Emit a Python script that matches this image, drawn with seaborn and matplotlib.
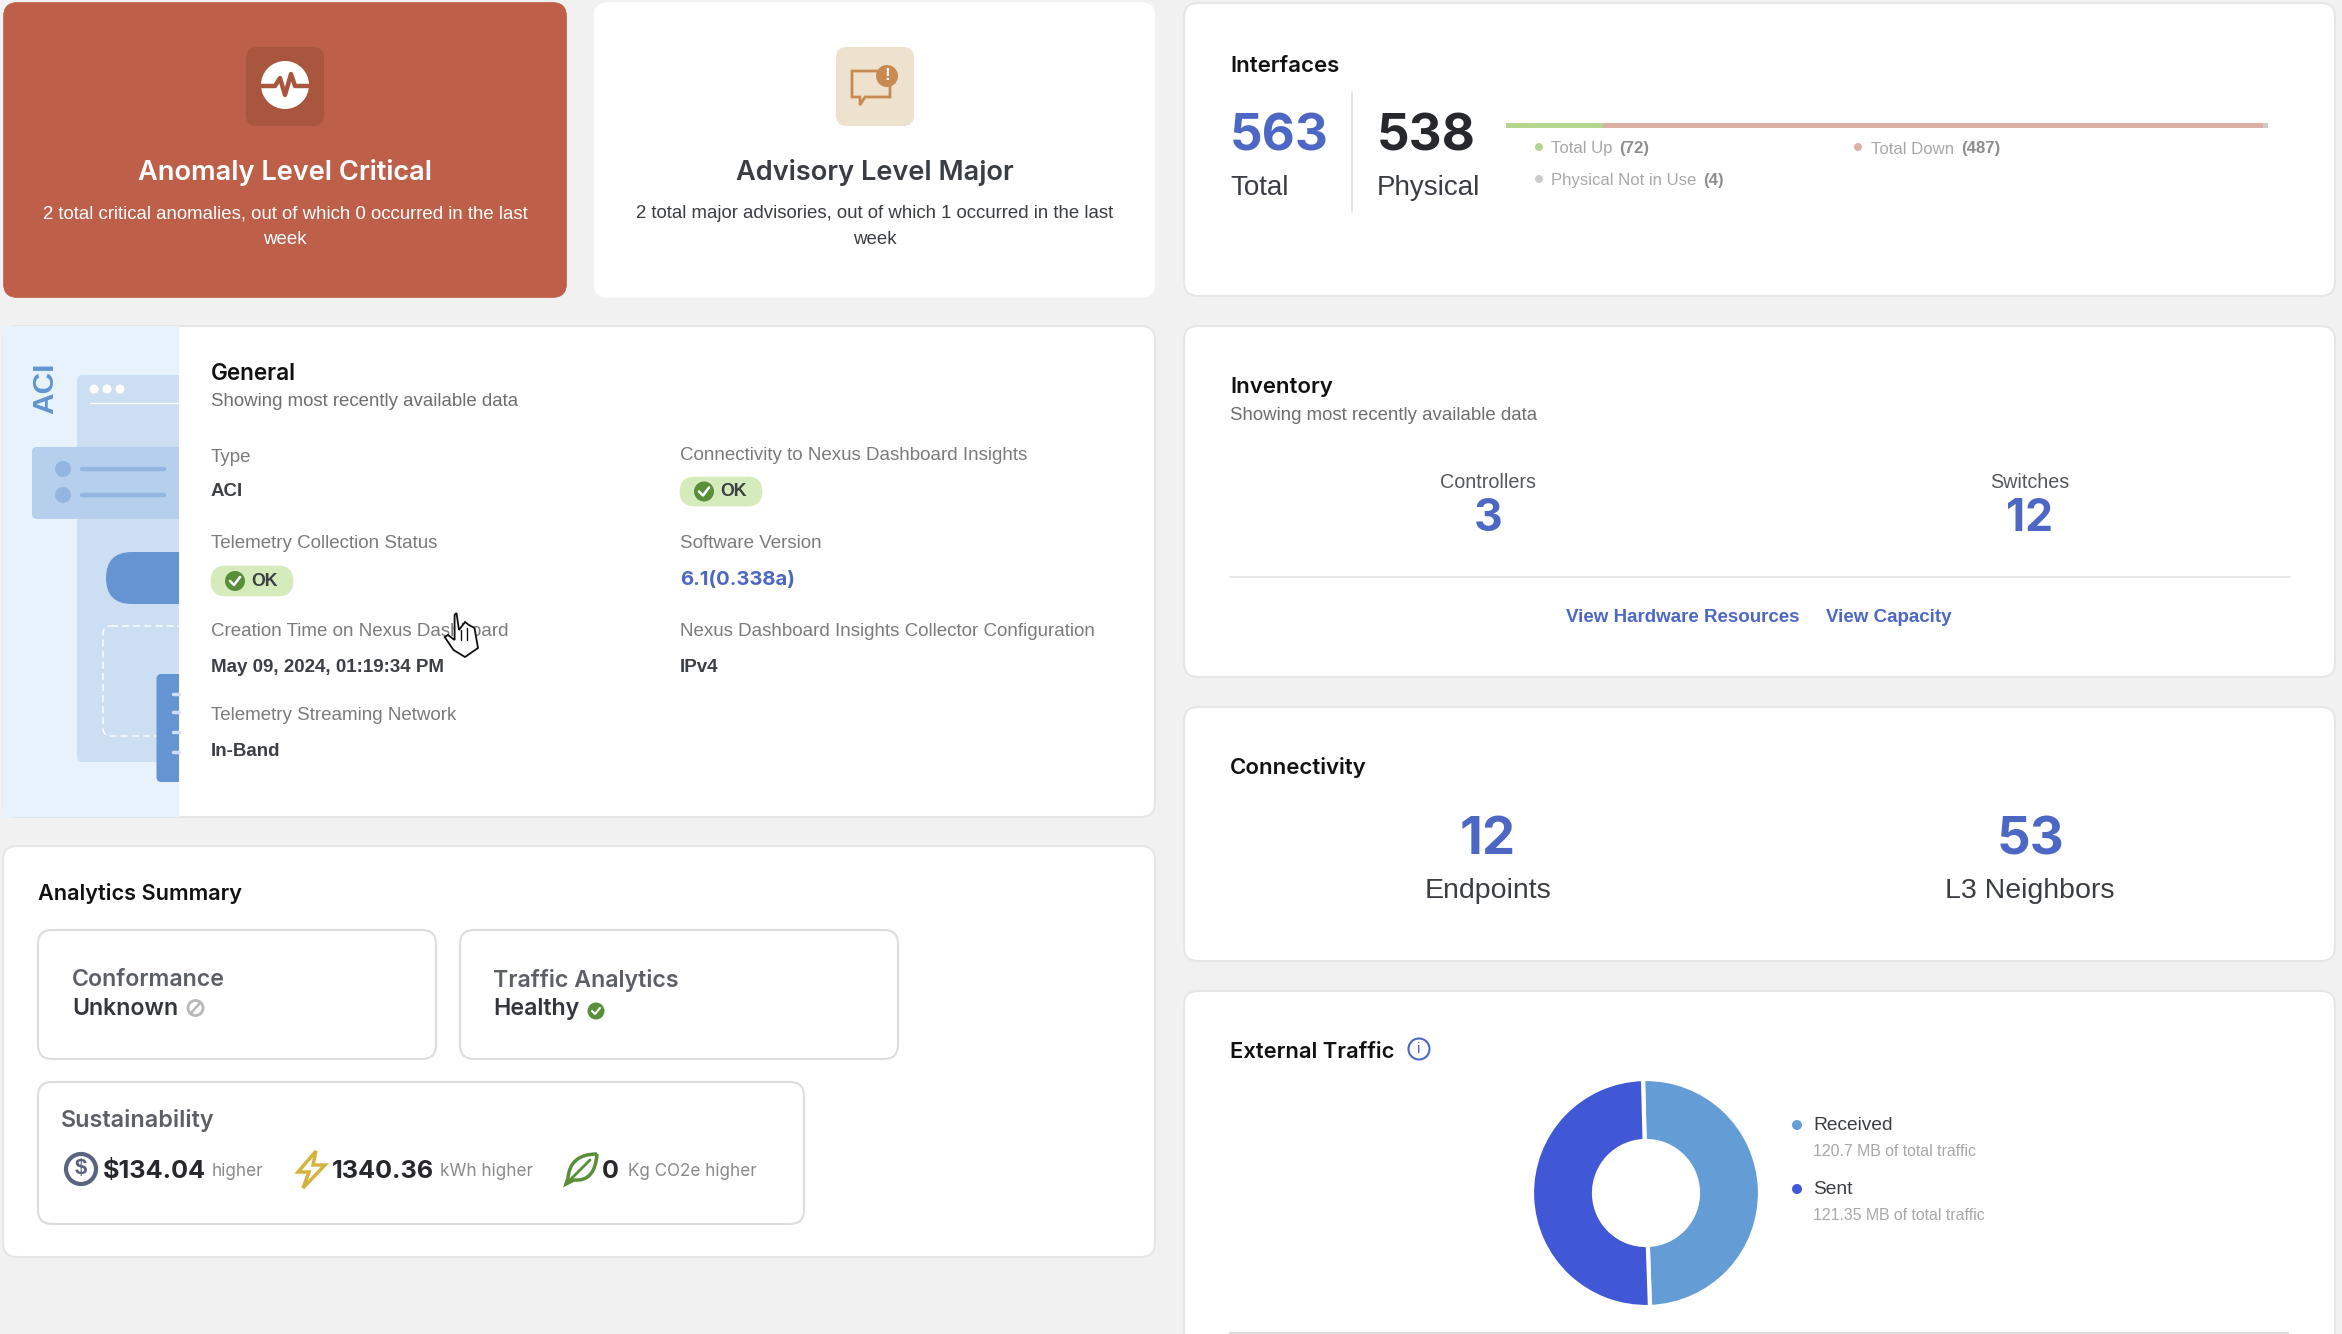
import matplotlib
matplotlib.use("Agg")
import matplotlib.pyplot as plt
import seaborn as sns
from matplotlib.patches import FancyBboxPatch, Rectangle, Circle, Polygon, PathPatch
from matplotlib.path import Path

W, H = 2342, 1334

# ---- data ----
interface_labels = ["Total Up", "Total Down", "Physical Not in Use"]
interface_counts = [72, 487, 4]
interface_colors = ["#B5D68F", "#DDB0A5", "#CCCCCC"]
traffic_labels = ["Received", "Sent"]
traffic_mb = [120.7, 121.35]
traffic_colors = ["#649DD6", "#4158D6"]
total_interfaces = 563
physical_interfaces = 538
controllers = 3
switches = 12
endpoints = 12
l3_neighbors = 53
sustain_values = ["$134.04", "1340.36", "0"]
sustain_units = ["higher", "kWh higher", "Kg CO2e higher"]

sns.set_theme(style="white", rc={"figure.facecolor": "#F1F1F1", "axes.facecolor": "none"})
BODY = ["Liberation Sans", "DejaVu Sans"]
HEAD = ["Inter", "DejaVu Sans"]
plt.rcParams["font.family"] = BODY

fig = plt.figure(figsize=(W / 100, H / 100), dpi=100)
bg = fig.add_axes([0, 0, 1, 1])
bg.set_xlim(0, W)
bg.set_ylim(H, 0)
bg.axis("off")

BLUE = "#4D68C4"
GREEN = "#5A8F3A"
LABEL = "#7B7B7B"
VALUE = "#3C3F44"


def card(x0, y0, x1, y1, fc="white", ec="#E6E6E6", r=14, lw=1.5, z=1):
    p = FancyBboxPatch((x0, y0), x1 - x0, y1 - y0, boxstyle=f"round,pad=0,rounding_size={r}",
                       fc=fc, ec=ec, lw=lw, zorder=z)
    bg.add_patch(p)
    return p


def txt(x, y, s, size, color="#111111", weight="normal", family=None, ha="left", dy=2, **kw):
    return bg.text(x, y + dy, s, fontsize=size, color=color, fontweight=weight, ha=ha, va="center",
                   family=family or BODY, zorder=6, **kw)


# ---- top left alerts ----
card(3.5, 2.5, 566.5, 297.5, fc="#BE6049", ec="#BE6049", lw=0.5)
card(594, 2.5, 1155, 297.5, ec="#FFFFFF", lw=0.5)
card(247, 48, 323, 125, fc="#A9563F", ec="#A9563F", r=10, z=2)
card(837, 48, 913, 125, fc="#EEE2CF", ec="#EEE2CF", r=10, z=2)
bg.add_patch(Circle((285, 85), 24, fc="white", ec="none", zorder=3))
bg.plot([259, 275, 280, 285, 291, 295, 311], [86, 86, 78, 95, 74, 86, 86], color="#A9563F", lw=3.2, zorder=4)
bg.add_patch(Polygon([(852, 71), (890, 71), (890, 97), (865, 97), (860, 105), (860, 97), (852, 97)],
                     closed=True, fc="none", ec="#C98A52", lw=2, zorder=3))
bg.add_patch(Circle((887, 76), 11, fc="#C98A52", ec="none", zorder=4))
txt(887, 76, "!", 12, color="white", weight="bold", ha="center", dy=0)
txt(285, 171, "Anomaly Level Critical", 19.6, color="white", weight="semibold", family=HEAD, ha="center")
txt(285, 212, "2 total critical anomalies, out of which 0 occurred in the last", 13.45, color="white", ha="center")
txt(285, 238, "week", 13.45, color="white", ha="center")
txt(875, 171, "Advisory Level Major", 19.6, color="#3A3D42", weight="semibold", family=HEAD, ha="center")
txt(875, 212, "2 total major advisories, out of which 1 occurred in the last", 13.45, color="#3A3D42", ha="center")
txt(875, 238, "week", 13.45, color="#3A3D42", ha="center")

# ---- general ----
gen = card(3, 326, 1155, 817)
illus = [
    Rectangle((3, 326), 176, 491, fc="#E7F2FC", ec="none", zorder=2),
    FancyBboxPatch((77, 375), 110, 387, boxstyle="round,pad=0,rounding_size=6", fc="#CCDFF2", ec="none", zorder=2.1),
    FancyBboxPatch((32, 447), 160, 72, boxstyle="round,pad=0,rounding_size=5", fc="#B5CFEC", ec="none", zorder=2.2),
    FancyBboxPatch((106, 552), 120, 52, boxstyle="round,pad=0,rounding_size=26", fc="#6495D2", ec="none", zorder=2.2),
    FancyBboxPatch((103, 626), 120, 110, boxstyle="round,pad=0,rounding_size=8", fc="none", ec="white", ls=(0, (5, 3)), lw=1.0, zorder=2.2),
    FancyBboxPatch((156.5, 674), 50, 108, boxstyle="round,pad=0,rounding_size=5", fc="#6495D2", ec="none", zorder=2.3),
]
for p in illus:
    bg.add_patch(p)
    p.set_clip_path(Rectangle((3, 326), 176, 491, transform=bg.transData))
for cx in (94, 107, 120):
    bg.add_patch(Circle((cx, 389), 4.5, fc="white", ec="none", zorder=2.5))
bg.plot([90, 179], [403, 403], color="white", lw=0.9, zorder=2.5)
for cy in (469, 495):
    bg.add_patch(Circle((63, cy), 8, fc="#93B6E0", ec="none", zorder=2.5))
    bg.plot([82, 164], [cy, cy], color="#93B6E0", lw=3.2, zorder=2.5, solid_capstyle="round")
for cy in (694, 712, 732, 752):
    bg.plot([173, 179], [cy, cy], color="#CFE0F3", lw=2.5, zorder=2.5)
txt(45, 388, "ACI", 21.5, color="#6095D0", weight="bold", ha="center", rotation=90, dy=0)

txt(211, 372, "General", 16.2, weight="semibold", family=HEAD)
txt(211, 400, "Showing most recently available data", 13.4, color="#6E6E6E")


def ok_pill(x0, y0, x1, y1):
    card(x0, y0, x1, y1, fc="#D5EBBC", ec="#D5EBBC", r=(y1 - y0) / 2, z=2, lw=0.5)
    cy = (y0 + y1) / 2
    bg.add_patch(Circle((x0 + 24, cy), 10, fc=GREEN, ec="none", zorder=3))
    bg.plot([x0 + 19, x0 + 23, x0 + 29], [cy, cy + 4, cy - 4], color="white", lw=1.8, zorder=4)
    txt(x0 + 40, cy, "OK", 12.8, color=VALUE, weight="bold", dy=0.5)


left_items = [(455, "Type"), (542, "Telemetry Collection Status"), (630, "Creation Time on Nexus Dashboard"),
              (713, "Telemetry Streaming Network")]
for y, s in left_items:
    txt(211, y, s, 13.5, color=LABEL)
txt(211, 490, "ACI", 13.5, color=VALUE, weight="bold")
ok_pill(211, 566, 293, 596)
txt(211, 666, "May 09, 2024, 01:19:34 PM", 13.5, color=VALUE, weight="bold")
txt(211, 749, "In-Band", 13.5, color=VALUE, weight="bold")

right_items = [(454, "Connectivity to Nexus Dashboard Insights"), (542, "Software Version"),
               (630, "Nexus Dashboard Insights Collector Configuration")]
for y, s in right_items:
    txt(680, y, s, 13.5, color=LABEL)
ok_pill(680, 477, 762, 506)
txt(680, 578, "6.1(0.338a)", 14.6, color=BLUE, weight="bold", family=HEAD)
txt(680, 665, "IPv4", 13.5, color=VALUE, weight="bold")

# cursor
bg.add_patch(Polygon([(456.5, 613), (459, 630), (465, 622), (469, 625), (474.5, 628), (478, 648), (465, 657),
                      (453.5, 650), (444.7, 637), (448, 635), (454.6, 640), (454.6, 615)],
                     closed=True, fc="white", ec="#111111", lw=1.3, zorder=8))
bg.plot([461, 461], [630, 640], color="#111111", lw=1, zorder=9)
bg.plot([467, 467], [628, 640], color="#111111", lw=1, zorder=9)

# ---- analytics ----
card(3, 846, 1155, 1257)
txt(38, 892, "Analytics Summary", 15.6, weight="semibold", family=HEAD)
card(38, 930, 436, 1059, ec="#DDDDDD", z=2)
card(460, 930, 898, 1059, ec="#DDDDDD", z=2)
card(38, 1082, 804, 1224, ec="#DDDDDD", z=2)
txt(72, 978, "Conformance", 16.7, color="#5C6066", weight="semibold", family=HEAD)
txt(72, 1007, "Unknown", 16.7, color="#33363B", weight="semibold", family=HEAD)
bg.add_patch(Circle((195.5, 1008), 7.5, fc="none", ec="#B8B8B8", lw=2, zorder=3))
bg.plot([191, 200], [1013, 1003], color="#B8B8B8", lw=1.8, zorder=3)
txt(493, 978, "Traffic Analytics", 16.7, color="#5C6066", weight="semibold", family=HEAD)
txt(493, 1007, "Healthy", 16.7, color="#33363B", weight="semibold", family=HEAD)
bg.add_patch(Circle((596, 1011), 8.5, fc=GREEN, ec="none", zorder=3))
bg.plot([592, 595, 600], [1011, 1014, 1008], color="white", lw=1.5, zorder=4)
txt(61, 1119, "Sustainability", 16.8, color="#5C6066", weight="semibold", family=HEAD)

bg.add_patch(Circle((81, 1169), 15, fc="none", ec="#5A6480", lw=3, zorder=3))
txt(81, 1169, "$", 16, color="#5A6480", weight="bold", ha="center", dy=0)
bg.add_patch(Polygon([(316, 1151), (298, 1172), (309, 1172), (303, 1188), (325, 1165), (313, 1165)],
                     closed=True, fc="white", ec="#D4B43C", lw=2.5, zorder=3))
leaf = Path([(597, 1154), (570, 1154), (568, 1178), (566, 1184), (574, 1180), (595, 1182), (597, 1154)],
            [Path.MOVETO, Path.CURVE3, Path.CURVE3, Path.LINETO, Path.LINETO, Path.CURVE3, Path.CURVE3])
bg.add_patch(PathPatch(leaf, fc="white", ec=GREEN, lw=2.5, zorder=3))
bg.plot([566, 590], [1184, 1160], color=GREEN, lw=2, zorder=4)
for x_val, x_unit, val, unit in zip((103, 332, 602), (212, 440, 628), sustain_values, sustain_units):
    txt(x_val, 1169, val, 18.2, color="#26282C", weight="bold", family=HEAD)
    txt(x_unit, 1170, unit, 12.3, color="#8A8A8A", family=HEAD)

# ---- interfaces ----
card(1184, 3, 2335, 296)
txt(1230, 64, "Interfaces", 16, weight="semibold", family=HEAD)
txt(1230, 135, str(total_interfaces), 36.8, color=BLUE, weight="bold", family=HEAD)
txt(1377, 135, str(physical_interfaces), 36.8, color="#26282C", weight="bold", family=HEAD)
txt(1230, 186, "Total", 20, color="#3A3D42")
txt(1377, 186, "Physical", 20, color="#3A3D42")
bg.plot([1352, 1352], [92, 212], color="#DDDDDD", lw=1.2, zorder=3)

bar_ax = fig.add_axes([1506 / W, 1 - 128 / H, 762 / W, 5 / H], zorder=5)
cum = 0
for lab, n, col in zip(interface_labels, interface_counts, interface_colors):
    sns.barplot(x=[n], y=["Interfaces"], left=cum, color=col, saturation=1, width=1, orient="h",
                linewidth=0, edgecolor="none", ax=bar_ax)
    cum += n
bar_ax.set_xlim(0, cum)
bar_ax.axis("off")

legend_pos = [(1539, 1551, 147), (1858, 1871, 147), (1539, 1551, 179)]
for (dx, tx, ty), lab, n, col in zip(legend_pos, interface_labels, interface_counts, interface_colors):
    bg.add_patch(Circle((dx, ty), 4, fc=col, ec="none", zorder=4))
    t = txt(tx, ty, lab, 12.1, color="#A8A8A8")
    bb = t.get_window_extent(fig.canvas.get_renderer())
    txt(bb.x1 + 7, ty, f"({n})", 12.1, color="#8E8E8E", weight="bold")

# ---- inventory ----
card(1184, 326, 2335, 677)
txt(1230, 385, "Inventory", 16, weight="semibold", family=HEAD)
txt(1230, 413, "Showing most recently available data", 13.4, color="#6E6E6E")
txt(1488, 480, "Controllers", 14.2, color="#55585C", ha="center")
txt(2030, 480, "Switches", 14.2, color="#55585C", ha="center")
txt(1488, 517, str(controllers), 32, color=BLUE, weight="bold", family=HEAD, ha="center")
txt(2030, 517, str(switches), 32, color=BLUE, weight="bold", family=HEAD, ha="center")
bg.plot([1230, 2290], [577, 577], color="#E5E5E5", lw=1.3, zorder=3)
txt(1683, 616, "View Hardware Resources", 13.5, color=BLUE, weight="bold", ha="center")
txt(1889, 616, "View Capacity", 13.5, color=BLUE, weight="bold", ha="center")

# ---- connectivity ----
card(1184, 707, 2335, 961)
txt(1230, 765, "Connectivity", 16, weight="semibold", family=HEAD)
txt(1488, 839, str(endpoints), 38, color=BLUE, weight="bold", family=HEAD, ha="center")
txt(2030, 839, str(l3_neighbors), 38, color=BLUE, weight="bold", family=HEAD, ha="center")
txt(1488, 889, "Endpoints", 20.5, color="#3A3D42", ha="center")
txt(2030, 889, "L3 Neighbors", 20.5, color="#3A3D42", ha="center")

# ---- external traffic ----
card(1184, 991, 2335, 1360)
txt(1230, 1050, "External Traffic", 15.8, weight="semibold", family=HEAD)
bg.add_patch(Circle((1419, 1049), 10.5, fc="white", ec=BLUE, lw=1.5, zorder=3))
txt(1419, 1049, "i", 11, color=BLUE, ha="center", dy=0)
R = 114
don = fig.add_axes([(1646 - R) / W, 1 - (1193 + R) / H, 2 * R / W, 2 * R / H], zorder=5)
don.pie(traffic_mb, colors=traffic_colors, startangle=91.5, counterclock=False, radius=1,
        wedgeprops=dict(width=1 - 52 / R, edgecolor="white", linewidth=3))
don.set_xlim(-1, 1)
don.set_ylim(-1, 1)
legend_y = [(1124, 1150), (1188, 1214)]
for (y1, y2), lab, mb, col in zip(legend_y, traffic_labels, traffic_mb, traffic_colors):
    bg.add_patch(Circle((1797, y1 + 1), 5, fc=col, ec="none", zorder=4))
    txt(1813, y1, lab, 13.8, color="#3A3D42")
    txt(1813, y2, f"{mb:g} MB of total traffic", 11.4, color="#A8A8A8")
bg.plot([1230, 2288], [1333, 1333], color="#DDDDDD", lw=1.5, zorder=3)

fig.savefig("out.png", dpi=100, facecolor=fig.get_facecolor())
